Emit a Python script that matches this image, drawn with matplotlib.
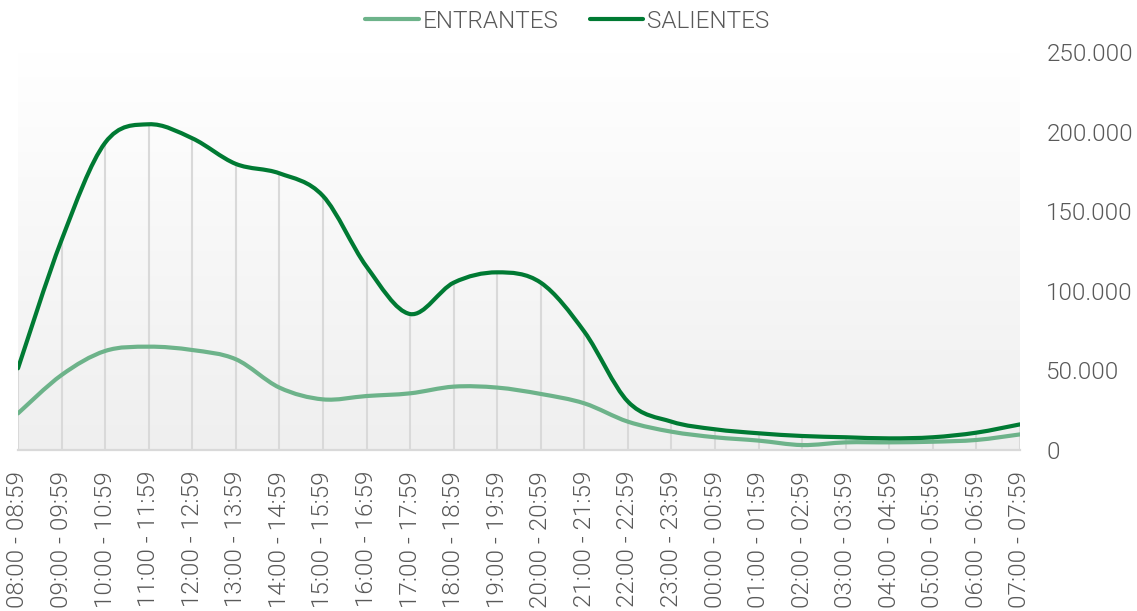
import matplotlib
matplotlib.use("Agg")
import matplotlib.pyplot as plt
import numpy as np
from matplotlib.path import Path
from matplotlib.patches import PathPatch
from matplotlib.lines import Line2D
from matplotlib.ticker import FuncFormatter

# ---- data ----
categories = ["08:00 - 08:59", "09:00 - 09:59", "10:00 - 10:59", "11:00 - 11:59",
              "12:00 - 12:59", "13:00 - 13:59", "14:00 - 14:59", "15:00 - 15:59",
              "16:00 - 16:59", "17:00 - 17:59", "18:00 - 18:59", "19:00 - 19:59",
              "20:00 - 20:59", "21:00 - 21:59", "22:00 - 22:59", "23:00 - 23:59",
              "00:00 - 00:59", "01:00 - 01:59", "02:00 - 02:59", "03:00 - 03:59",
              "04:00 - 04:59", "05:00 - 05:59", "06:00 - 06:59", "07:00 - 07:59"]
entrantes = [23000, 47100, 62200, 64900, 62800, 57000, 39200, 31800, 33900, 35600,
             39800, 39200, 35200, 29300, 17800, 11500, 8000, 5900, 3100, 4800,
             4800, 5200, 6300, 9800]
salientes = [51300, 131900, 193000, 204600, 195800, 179700, 173800, 159600, 115200, 85400,
             105100, 111600, 105100, 74300, 30400, 17800, 13000, 10500, 8800, 8000,
             7300, 8000, 10900, 16100]
series_names = ["ENTRANTES", "SALIENTES"]
colors = ["#6DB38A", "#007A33"]
y_ticks = [0, 50000, 100000, 150000, 200000, 250000]

TEXT = "#595959"
GRID = "#d9d9d9"
FONT = "Roboto"
FW = 300
FS = 17.5

plt.rcParams["font.family"] = [FONT, "DejaVu Sans"]

fig = plt.figure(figsize=(11.37, 6.11), dpi=100)
ax = fig.add_axes([18 / 1137, 1 - 450 / 611, (1020 - 18) / 1137, (450 - 52) / 611])

x = np.arange(len(categories))


def smooth_path(xs, ys):
    xs = np.asarray(xs, float)
    ys = np.asarray(ys, float)
    n = len(xs)
    verts = [(xs[0], ys[0])]
    codes = [Path.MOVETO]
    for i in range(n - 1):
        p0 = (xs[max(i - 1, 0)], ys[max(i - 1, 0)])
        p1 = (xs[i], ys[i])
        p2 = (xs[i + 1], ys[i + 1])
        p3 = (xs[min(i + 2, n - 1)], ys[min(i + 2, n - 1)])
        c1 = (p1[0] + (p2[0] - p0[0]) / 6, p1[1] + (p2[1] - p0[1]) / 6)
        c2 = (p2[0] - (p3[0] - p1[0]) / 6, p2[1] - (p3[1] - p1[1]) / 6)
        verts += [c1, c2, p2]
        codes += [Path.CURVE4] * 3
    return Path(verts, codes)


# gradient background
grad = np.linspace(1, 0, 256).reshape(-1, 1)
top = np.array([1.0, 1.0, 1.0])
bot = np.array([0xef, 0xef, 0xef]) / 255
img = top * grad[..., None] + bot * (1 - grad[..., None])
ax.imshow(img, extent=[0, 1, 0, 1], transform=ax.transAxes, aspect="auto", zorder=0)

ax.set_xlim(0, len(categories) - 1)
ax.set_ylim(0, 250000)

# drop lines
ax.vlines(x, 0, np.maximum(entrantes, salientes), color=GRID, lw=1.5, zorder=1)

for vals, col in zip([entrantes, salientes], colors):
    patch = PathPatch(smooth_path(x, vals), facecolor="none", edgecolor=col, lw=3.0,
                      capstyle="round", joinstyle="round", zorder=3)
    ax.add_patch(patch)

# axes styling
for s in ["top", "left", "right"]:
    ax.spines[s].set_visible(False)
ax.spines["bottom"].set_color(GRID)
ax.spines["bottom"].set_linewidth(1.6)
ax.spines["bottom"].set_zorder(2)

ax.yaxis.tick_right()
ax.set_yticks(y_ticks)
ax.yaxis.set_major_formatter(FuncFormatter(lambda v, p: f"{int(v):,}".replace(",", ".")))
ax.tick_params(axis="y", length=0, pad=19, labelsize=FS, labelcolor=TEXT)
for lbl in ax.get_yticklabels():
    lbl.set_fontweight(FW)
    lbl.set_horizontalalignment("left")

ax.set_xticks(x)
ax.set_xticklabels(categories, rotation=90, fontsize=FS, color=TEXT, fontweight=FW,
                   va="top", ha="center")
ax.tick_params(axis="x", length=0, pad=15)

handles = [Line2D([0], [0], color=c, lw=3.0, solid_capstyle="round") for c in colors]
leg = fig.legend(handles, series_names, loc="center", bbox_to_anchor=(0.499, 0.9656),
                 ncol=2, frameon=False, handlelength=2.2, handletextpad=0.15,
                 columnspacing=1.3, prop={"size": FS, "weight": FW})
for t in leg.get_texts():
    t.set_color(TEXT)

fig.savefig("out.png", dpi=100, facecolor="white")
